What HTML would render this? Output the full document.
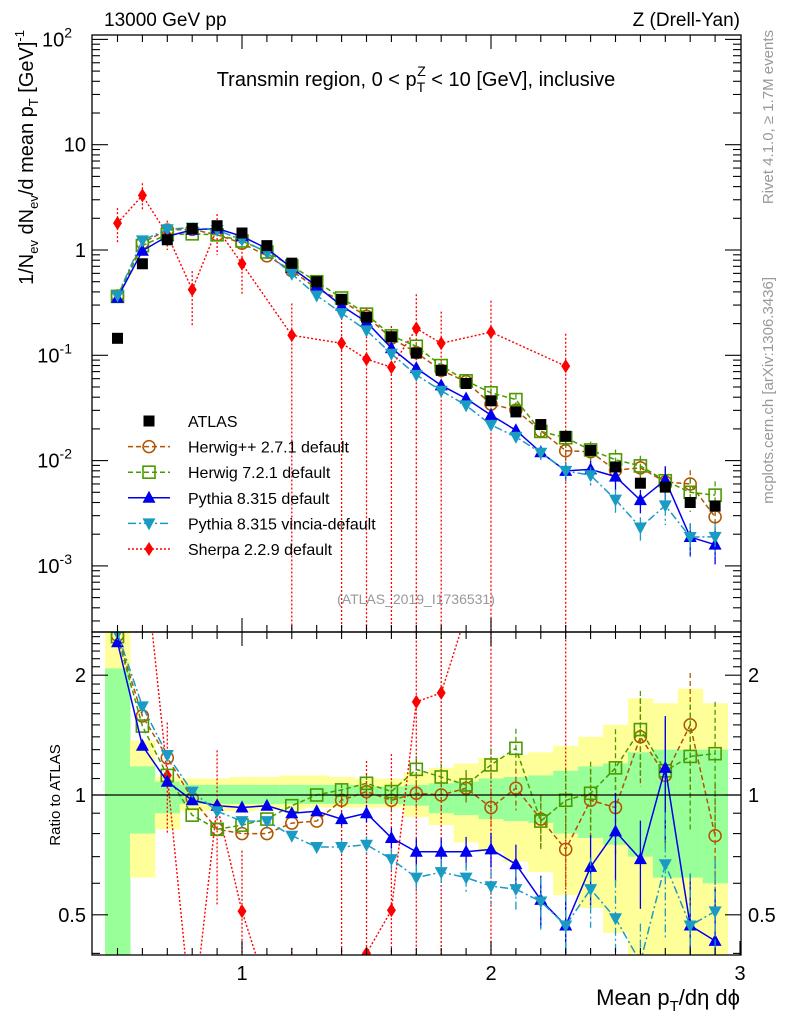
<!DOCTYPE html>
<html><head><meta charset="utf-8"><style>
body{margin:0;background:#fff;overflow:hidden}
svg{display:block;font-family:"Liberation Sans",sans-serif}
</style></head><body>
<svg id="chart" width="786" height="1024" viewBox="0 0 786 1024" xmlns="http://www.w3.org/2000/svg">
<defs>
<clipPath id="clipTop"><rect x="92" y="35" width="649" height="597"/></clipPath>
<clipPath id="clipBot"><rect x="92" y="632" width="649" height="323"/></clipPath>
</defs>
<rect width="786" height="1024" fill="#fff"/>
<g id="bands" clip-path="url(#clipBot)"></g>
<g id="topMarks" clip-path="url(#clipTop)"></g>
<g id="botMarks" clip-path="url(#clipBot)"></g>
<g id="axes"></g>
<g id="legend"></g>
<text x="104" y="26" font-size="19">13000 GeV pp</text>
<text x="740" y="26" font-size="19" text-anchor="end">Z (Drell-Yan)</text>
<text x="416" y="86" font-size="20" text-anchor="middle">Transmin region, 0 &lt; p<tspan font-size="14" dy="6">T</tspan><tspan font-size="14" dx="-8" dy="-16">Z</tspan><tspan dy="10"> &lt; 10 [GeV], inclusive</tspan></text>
<text x="416" y="604" font-size="14" fill="#999" text-anchor="middle">(ATLAS_2019_I1736531)</text>
<text transform="translate(33,30) rotate(-90)" font-size="20" text-anchor="end">1/N<tspan font-size="13" dy="5">ev</tspan><tspan dy="-5"> dN</tspan><tspan font-size="13" dy="5">ev</tspan><tspan dy="-5">/d mean p</tspan><tspan font-size="13" dy="5">T</tspan><tspan dy="-5"> [GeV]</tspan><tspan font-size="13" dy="-9">-1</tspan></text>
<text transform="translate(60,795) rotate(-90)" font-size="15" text-anchor="middle">Ratio to ATLAS</text>
<text x="740" y="1005" font-size="22" text-anchor="end">Mean p<tspan font-size="15" dy="6">T</tspan><tspan dy="-6">/dη dϕ</tspan></text>
<text transform="translate(773,30) rotate(-90)" font-size="15" fill="#999" text-anchor="end">Rivet 4.1.0, ≥ 1.7M events</text>
<text transform="translate(773,277) rotate(-90)" font-size="15" fill="#999" text-anchor="end">mcplots.cern.ch [arXiv:1306.3436]</text>
</svg>
<script>
const xVals=[0.5,0.6,0.7,0.8,0.9,1.0,1.1,1.2,1.3,1.4,1.5,1.6,1.7,1.8,1.9,2.0,2.1,2.2,2.3,2.4,2.5,2.6,2.7,2.8,2.9];
const atlas=[0.145,0.74,1.25,1.6,1.7,1.45,1.1,0.75,0.5,0.34,0.23,0.15,0.105,0.072,0.054,0.037,0.029,0.022,0.017,0.0125,0.0087,0.0061,0.0056,0.004,0.0037];
const herwigppRatio=[2.52,1.58,1.24,0.98,0.82,0.80,0.80,0.85,0.86,0.97,1.02,0.97,1.01,1.0,1.04,0.93,1.04,0.87,0.73,0.97,0.93,1.40,1.12,1.50,0.79];
const herwig7Ratio=[2.5,1.49,1.12,0.89,0.82,0.84,0.87,0.94,1.0,1.03,1.07,1.02,1.16,1.11,1.06,1.19,1.31,0.86,0.97,1.01,1.17,1.46,1.15,1.25,1.27];
const pythiaRatio=[2.42,1.33,1.08,0.97,0.94,0.93,0.94,0.90,0.91,0.87,0.90,0.78,0.72,0.72,0.72,0.73,0.67,0.545,0.47,0.66,0.81,0.69,1.17,0.47,0.43];
const vinciaRatio=[2.55,1.67,1.26,1.02,0.91,0.86,0.86,0.79,0.74,0.74,0.75,0.69,0.62,0.64,0.62,0.59,0.58,0.54,0.47,0.58,0.49,0.38,0.67,0.47,0.51];
const mcRelErr=[0.02,0.02,0.02,0.02,0.02,0.02,0.02,0.03,0.03,0.04,0.05,0.06,0.08,0.08,0.09,0.1,0.12,0.15,0.2,0.2,0.25,0.25,0.35,0.35,0.35];
const sherpa=[1.8,3.3,1.4,0.42,1.6,0.74,null,0.155,null,0.13,0.092,0.077,0.18,0.13,null,0.166,null,null,0.079,null,null,null,null,null,null];
const sherpaLo=[1.15,2.4,1.0,0.19,0.9,0.37,null,0,null,0,0,0,0,0,null,0,null,null,0,null,null,null,null,null,null];
const sherpaHi=[2.5,4.3,1.9,0.63,2.2,1.05,null,0.31,null,0.35,0.28,0.19,0.38,0.26,null,0.33,null,null,0.16,null,null,null,null,null,null];
const greenHi=[2.08,1.18,1.08,1.06,1.06,1.06,1.06,1.06,1.06,1.06,1.05,1.05,1.06,1.07,1.08,1.10,1.11,1.12,1.15,1.18,1.20,1.28,1.30,1.30,1.30];
const greenLo=[0.3,0.80,0.90,0.95,0.95,0.95,0.95,0.95,0.95,0.95,0.95,0.95,0.94,0.90,0.89,0.87,0.86,0.85,0.80,0.78,0.75,0.70,0.62,0.62,0.60];
const yellowHi=[2.7,1.37,1.11,1.10,1.10,1.11,1.11,1.12,1.12,1.11,1.10,1.10,1.14,1.17,1.20,1.24,1.26,1.28,1.33,1.40,1.50,1.75,1.70,1.85,1.70];
const yellowLo=[0.3,0.62,0.82,0.91,0.91,0.91,0.92,0.92,0.93,0.93,0.93,0.93,0.88,0.84,0.76,0.72,0.68,0.64,0.56,0.52,0.45,0.38,0.38,0.38,0.38];
const xTicks=[1,2,3];
const binW=0.1;

const NS="http://www.w3.org/2000/svg";
const X=v=>242+249*(v-1);
const YT=v=>250-105.3*Math.log10(v);
const YR=r=>795-398*Math.log10(r);
function mk(parent,tag,attrs){const e=document.createElementNS(NS,tag);for(const k in attrs)e.setAttribute(k,attrs[k]);parent.appendChild(e);return e;}
const bands=document.getElementById('bands'),topG=document.getElementById('topMarks'),botG=document.getElementById('botMarks'),axes=document.getElementById('axes'),leg=document.getElementById('legend');
const C=y=>Math.min(Math.max(y,0),1024);

xVals.forEach((x,i)=>{
  const y1=C(YR(yellowHi[i])),y2=C(YR(yellowLo[i]));
  let r=mk(bands,'rect',{x:X(x-binW/2),width:249*binW+0.5,y:y1,height:y2-y1,fill:'#ffff99'});
  
  
  const g1=C(YR(greenHi[i])),g2=C(YR(greenLo[i]));
  let g=mk(bands,'rect',{x:X(x-binW/2),width:249*binW+0.5,y:g1,height:g2-g1,fill:'#99ff99'});
  
  
});

function marker(g,type,cx,cy,color){
  let e;
  if(type==='sq')e=mk(g,'rect',{x:cx-5.5,y:cy-5.5,width:11,height:11,fill:'#000'});
  else if(type==='osq')e=mk(g,'rect',{x:cx-6,y:cy-6,width:12,height:12,fill:'none',stroke:color,'stroke-width':1.6});
  else if(type==='oc')e=mk(g,'circle',{cx:cx,cy:cy,r:6,fill:'none',stroke:color,'stroke-width':1.5});
  else if(type==='tu')e=mk(g,'path',{d:`M${cx},${cy-7}L${cx+6.5},${cy+5}L${cx-6.5},${cy+5}Z`,fill:color});
  else if(type==='td')e=mk(g,'path',{d:`M${cx},${cy+7}L${cx+6.5},${cy-5}L${cx-6.5},${cy-5}Z`,fill:color});
  else if(type==='dm')e=mk(g,'path',{d:`M${cx},${cy-7}L${cx+4.5},${cy}L${cx},${cy+7}L${cx-4.5},${cy}Z`,fill:color});
  return e;
}

const series=[
 {name:'herwigpp',label:'Herwig++ 2.7.1 default',ratio:herwigppRatio,color:'#b25400',dash:'5,3',m:'oc'},
 {name:'herwig7',label:'Herwig 7.2.1 default',ratio:herwig7Ratio,color:'#4a9a00',dash:'5,3',m:'osq'},
 {name:'pythia',label:'Pythia 8.315 default',ratio:pythiaRatio,color:'#0000ee',dash:'',m:'tu'},
 {name:'vincia',label:'Pythia 8.315 vincia-default',ratio:vinciaRatio,color:'#1a9bc4',dash:'8,3,2,3',m:'td'}
];

function drawSeries(s){
  const vals=s.ratio.map((r,i)=>r*atlas[i]);
  [[topG,vals,YT],[botG,s.ratio,YR]].forEach(([g,arr,Y])=>{
    const pts=xVals.map((x,i)=>X(x)+','+Y(arr[i])).join(' ');
    const l=mk(g,'polyline',{points:pts,fill:'none',stroke:s.color,'stroke-width':1.5,'stroke-dasharray':s.dash});
    
    
    xVals.forEach((x,i)=>{
      const e=mcRelErr[i];
      if(e>0.03){
        const b=mk(g,'line',{x1:X(x),x2:X(x),y1:C(Y(arr[i]*(1+e))),y2:C(Y(arr[i]*Math.max(1-e,0.05))),stroke:s.color,'stroke-width':1.3,'stroke-dasharray':s.dash});
        
        
      }
      const m=marker(g,s.m,X(x),Y(arr[i]),s.color);
      
      
    });
  });
}

function drawSherpa(){
  [[topG,v=>v,YT],[botG,(v,i)=>v/atlas[i],YR]].forEach(([g,f,Y])=>{
    const pts=[];
    xVals.forEach((x,i)=>{if(sherpa[i]!==null)pts.push(X(x)+','+Y(f(sherpa[i],i)));});
    const l=mk(g,'polyline',{points:pts.join(' '),fill:'none',stroke:'#ff0000','stroke-width':1.4,'stroke-dasharray':'2,2'});
    
    
    xVals.forEach((x,i)=>{
      if(sherpa[i]===null)return;
      const lo=sherpaLo[i]>0?C(Y(f(sherpaLo[i],i))):1024;
      const b=mk(g,'line',{x1:X(x),x2:X(x),y1:C(Y(f(sherpaHi[i],i))),y2:lo,stroke:'#ff0000','stroke-width':1.3,'stroke-dasharray':'2,2'});
      
      
      const m=marker(g,'dm',X(x),Y(f(sherpa[i],i)),'#ff0000');
      
      
    });
  });
}
drawSherpa();
series.forEach(drawSeries);
xVals.forEach((x,i)=>{
  const m=marker(topG,'sq',X(x),YT(atlas[i]),'#000');
  
  
});
const unity=mk(botG,'line',{x1:92,x2:741,y1:YR(1),y2:YR(1),stroke:'#000','stroke-width':1.2});



[[35,632,'top-frame'],[632,955,'ratio-frame']].forEach(([y0,y1,n])=>{
  const r=mk(axes,'rect',{x:92,y:y0,width:649,height:y1-y0,fill:'none',stroke:'#000','stroke-width':1.3});
  
  
});
function tick(x1,y1,x2,y2){const t=mk(axes,'line',{x1,y1,x2,y2,stroke:'#000','stroke-width':1.1});}
for(let k=5;k<=29;k++){
  const v=k/10,x=X(v),major=(k%10===0),len=major?14:7;
  [[35,1],[632,-1],[632,1],[955,-1]].forEach(([y,d])=>tick(x,y,x,y+d*len));
}
xTicks.forEach(v=>{
  const t=mk(axes,'text',{x:X(v),y:980,'font-size':20,'text-anchor':'middle'});t.textContent=v;
  
  
});
tick(X(3),955,X(3),941);
for(let d=-4;d<=2;d++){for(let m=1;m<=9;m++){const v=m*Math.pow(10,d),y=YT(v);if(y<35||y>632)continue;const len=m===1?16:8;tick(92,y,92+len,y);tick(741,y,741-len,y);}}
const yLabels=[['10','2',2],['10','',1],['1','',0],['10','-1',-1],['10','-2',-2],['10','-3',-3]];
yLabels.forEach(([b,e,p])=>{
  const y=YT(Math.pow(10,p));
  const t=mk(axes,'text',{x:e?72:86,y:y+7,'font-size':20,'text-anchor':'end'});
  t.textContent=(p===1)?'10':(p===0?'1':b);
  if(e){const s=mk(t,'tspan',{'font-size':14,dy:-9});s.textContent=e;}
  
  
});
[0.4,0.5,0.6,0.7,0.8,0.9,1,2].forEach(r=>{const y=YR(r);const len=(r===1||r===2||r===0.5)?16:8;tick(92,y,92+len,y);tick(741,y,741-len,y);});
[1.1,1.2,1.3,1.4,1.5,1.6,1.7,1.8,1.9,2.1,2.2,2.3,2.4,2.5].forEach(r=>{const y=YR(r);tick(92,y,100,y);tick(741,y,733,y);});
[['2',2],['1',1],['0.5',0.5]].forEach(([s,r])=>{
  [[86,'end'],[748,'start']].forEach(([x,a])=>{
    const t=mk(axes,'text',{x,y:YR(r)+7,'font-size':20,'text-anchor':a});t.textContent=s;
    
    
  });
});

const legRows=[
 {label:'ATLAS',m:'sq',color:'#000',dash:null},
 ...series.map(s=>({label:s.label,m:s.m,color:s.color,dash:s.dash})),
 {label:'Sherpa 2.2.9 default',m:'dm',color:'#ff0000',dash:'2,2'}
];
legRows.forEach((r,i)=>{
  const y=421+25.6*i;
  const g=mk(leg,'g',{});
  
  
  if(r.dash!==null)mk(g,'line',{x1:128,x2:170,y1:y,y2:y,stroke:r.color,'stroke-width':1.5,'stroke-dasharray':r.dash});
  marker(g,r.m,149,y,r.color);
  const t=mk(g,'text',{x:188,y:y+6,'font-size':16});t.textContent=r.label;
});
</script>
</body></html>
